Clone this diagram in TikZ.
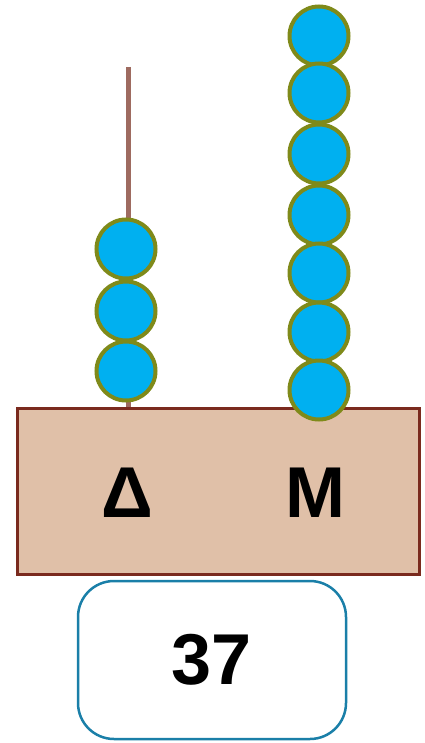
\documentclass[tikz,border=0pt]{standalone}
\usepackage{fontspec}
\setmainfont{Liberation Sans}
\definecolor{rod}{HTML}{9E6B60}
\definecolor{beadfill}{HTML}{00B0F0}
\definecolor{beadline}{HTML}{7F8A1A}
\definecolor{boxfill}{HTML}{E0C0A8}
\definecolor{boxline}{HTML}{7A2A1E}
\definecolor{numline}{HTML}{1A7FA8}
\begin{document}
\begin{tikzpicture}[x=1pt,y=-1pt,
  bead/.style={circle,draw=beadline,fill=beadfill,line width=4pt,minimum size=59pt,inner sep=0pt},
  label/.style={font=\fontsize{72}{72}\selectfont\bfseries,inner sep=0pt},
  base/.style={draw=boxline,fill=boxfill,line width=3pt},
  numbox/.style={draw=numline,line width=2.5pt,rounded corners=36pt,minimum width=268pt,minimum height=158pt,font=\fontsize{72}{72}\selectfont\bfseries}]
\useasboundingbox (0,0) rectangle (424,743);
\coordinate (rtop) at (128,67);
\coordinate (rbot) at (128,410);
\draw[rod,line width=5pt] (rtop) -- (rbot);
\draw[base] (17,408) rectangle (419,574);
\node[label] (d) at (127,493) {Δ};
\node[label] (m) at (315,493) {M};
\node[numbox] (n) at (212,660) {37};
\node[bead] (l1) at (126,249) {};
\node[bead] (l2) at (126,311) {};
\node[bead] (l3) at (126,371) {};
\node[bead] (r1) at (319,36) {};
\node[bead] (r2) at (319,93) {};
\node[bead] (r3) at (319,154) {};
\node[bead] (r4) at (319,215) {};
\node[bead] (r5) at (319,273) {};
\node[bead] (r6) at (319,332) {};
\node[bead] (r7) at (319,390) {};
\end{tikzpicture}
\end{document}
